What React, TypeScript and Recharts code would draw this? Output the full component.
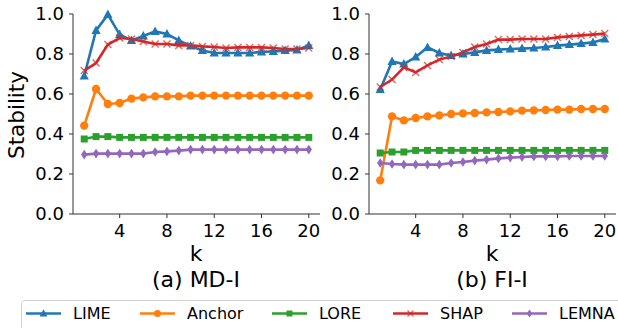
import React from "react"
import { LineChart, Line, XAxis, YAxis } from "recharts"

const ks = [1, 2, 3, 4, 5, 6, 7, 8, 9, 10, 11, 12, 13, 14, 15, 16, 17, 18, 19, 20]
const xTicks = [4, 8, 12, 16, 20]
const yTicks = [0, 0.2, 0.4, 0.6, 0.8, 1.0]
const methods = ["LIME", "Anchor", "LORE", "SHAP", "LEMNA"]
const panelTitles = ["(a) MD-I", "(b) FI-I"]

// (a) MD-I
const mdLime = [0.69, 0.918, 0.997, 0.897, 0.868, 0.89, 0.913, 0.9, 0.868, 0.84, 0.817, 0.805, 0.805, 0.805, 0.805, 0.81, 0.813, 0.817, 0.82, 0.843]
const mdAnchor = [0.442, 0.625, 0.55, 0.555, 0.577, 0.583, 0.588, 0.588, 0.588, 0.592, 0.592, 0.592, 0.592, 0.592, 0.592, 0.592, 0.592, 0.592, 0.592, 0.592]
const mdLore = [0.375, 0.387, 0.387, 0.383, 0.383, 0.383, 0.383, 0.383, 0.383, 0.383, 0.383, 0.383, 0.383, 0.383, 0.383, 0.383, 0.383, 0.383, 0.383, 0.383]
const mdShap = [0.717, 0.755, 0.847, 0.88, 0.875, 0.863, 0.85, 0.85, 0.843, 0.843, 0.838, 0.835, 0.83, 0.833, 0.833, 0.833, 0.83, 0.825, 0.825, 0.83]
const mdLemna = [0.297, 0.302, 0.302, 0.302, 0.302, 0.302, 0.31, 0.313, 0.317, 0.322, 0.322, 0.322, 0.322, 0.322, 0.322, 0.322, 0.322, 0.322, 0.322, 0.322]

// (b) FI-I
const fiLime = [0.622, 0.763, 0.75, 0.785, 0.833, 0.805, 0.792, 0.8, 0.808, 0.818, 0.822, 0.825, 0.827, 0.83, 0.835, 0.842, 0.847, 0.852, 0.858, 0.875]
const fiAnchor = [0.168, 0.488, 0.468, 0.48, 0.488, 0.493, 0.5, 0.503, 0.505, 0.508, 0.51, 0.513, 0.517, 0.518, 0.52, 0.522, 0.522, 0.525, 0.525, 0.525]
const fiLore = [0.305, 0.31, 0.31, 0.318, 0.318, 0.318, 0.318, 0.318, 0.318, 0.318, 0.318, 0.318, 0.318, 0.318, 0.318, 0.318, 0.318, 0.318, 0.318, 0.318]
const fiShap = [0.635, 0.672, 0.733, 0.708, 0.743, 0.772, 0.788, 0.808, 0.835, 0.85, 0.872, 0.872, 0.875, 0.875, 0.875, 0.883, 0.888, 0.893, 0.897, 0.902]
const fiLemna = [0.255, 0.25, 0.247, 0.247, 0.247, 0.247, 0.255, 0.26, 0.267, 0.272, 0.278, 0.282, 0.285, 0.288, 0.288, 0.288, 0.29, 0.29, 0.29, 0.29]

const colors = ["#1f77b4", "#ff7f0e", "#2ca02c", "#d62728", "#9467bd"]
const shapes = ["triangle", "circle", "square", "x", "diamond"]
const font = "'DejaVu Sans', sans-serif"

const buildRows = (series: number[][]) =>
  ks.map((k, i) => {
    const row: Record<string, number> = { k }
    methods.forEach((m, j) => (row[m] = series[j][i]))
    return row
  })

const panels = [
  buildRows([mdLime, mdAnchor, mdLore, mdShap, mdLemna]),
  buildRows([fiLime, fiAnchor, fiLore, fiShap, fiLemna]),
]

function Marker({ shape, color, x, y, s = 1 }: { shape: string; color: string; x: number; y: number; s?: number }) {
  if (shape === "triangle")
    return <polygon points={`${x},${y - 5 * s} ${x - 4.6 * s},${y + 3.5 * s} ${x + 4.6 * s},${y + 3.5 * s}`} fill={color} />
  if (shape === "circle") return <circle cx={x} cy={y} r={4.2 * s} fill={color} />
  if (shape === "square") return <rect x={x - 3.5 * s} y={y - 3.5 * s} width={7 * s} height={7 * s} fill={color} />
  if (shape === "x")
    return (
      <g stroke={color} strokeWidth={1.4} opacity={0.7}>
        <line x1={x - 3.5 * s} y1={y - 3.5 * s} x2={x + 3.5 * s} y2={y + 3.5 * s} />
        <line x1={x - 3.5 * s} y1={y + 3.5 * s} x2={x + 3.5 * s} y2={y - 3.5 * s} />
      </g>
    )
  return <polygon points={`${x},${y - 4.8 * s} ${x + 3.2 * s},${y} ${x},${y + 4.8 * s} ${x - 3.2 * s},${y}`} fill={color} />
}

const makeDot = (shape: string, color: string) => (props: any) => {
  const { cx, cy, index } = props
  if (cx == null || cy == null) return <g key={index} />
  return (
    <g key={index}>
      <Marker shape={shape} color={color} x={cx} y={cy} />
    </g>
  )
}

const axisColor = "#333"
const tickStyle = { fontSize: 18, fill: "#000", fontFamily: font }

function Panel({ data }: { data: Record<string, number>[] }) {
  return (
    <LineChart width={322} height={244} data={data} margin={{ top: 14, right: 2, bottom: 0, left: 0 }}>
      <XAxis
        type="number"
        dataKey="k"
        domain={[0.05, 20.95]}
        ticks={xTicks}
        allowDataOverflow
        height={30}
        tick={tickStyle}
        tickSize={4}
        tickMargin={6}
        stroke={axisColor}
      />
      <XAxis xAxisId="top" orientation="top" type="number" dataKey="k" domain={[0.05, 20.95]} height={0} tick={false} tickLine={false} stroke={axisColor} />
      <YAxis
        type="number"
        domain={[0, 1]}
        ticks={yTicks}
        width={73}
        tick={tickStyle}
        tickSize={4}
        tickMargin={5}
        tickFormatter={(v: number) => v.toFixed(1)}
        stroke={axisColor}
      />
      <YAxis yAxisId="right" orientation="right" domain={[0, 1]} width={0} tick={false} tickLine={false} stroke={axisColor} />
      {methods.map((m, i) => (
        <Line
          key={m}
          dataKey={m}
          stroke={colors[i]}
          strokeWidth={2.6}
          dot={makeDot(shapes[i], colors[i])}
          activeDot={false}
          isAnimationActive={false}
        />
      ))}
    </LineChart>
  )
}

const legendX = [26, 140, 272, 393, 512]

function Legend() {
  return (
    <svg width={618} height={28} style={{ position: "absolute", left: 0, top: 300 }}>
      <rect x={21.5} y={0.5} width={640} height={40} rx={3} fill="#fff" stroke="#d0d0d0" />
      {methods.map((m, i) => (
        <g key={m}>
          <line x1={legendX[i]} x2={legendX[i] + 35} y1={13.5} y2={13.5} stroke={colors[i]} strokeWidth={2.6} />
          <Marker shape={shapes[i]} color={colors[i]} x={legendX[i] + 17.5} y={13.5} s={0.85} />
          <text x={legendX[i] + 47} y={13.5} dy="0.36em" fontSize={16} fontFamily={font} fill="#000">
            {m}
          </text>
        </g>
      ))}
    </svg>
  )
}

const centered: React.CSSProperties = {
  position: "absolute",
  transform: "translate(-50%, -50%)",
  fontFamily: font,
  whiteSpace: "nowrap",
  lineHeight: 1,
}

export default function App() {
  const centers = [196, 492]
  return (
    <div style={{ position: "absolute", left: 0, top: 0, width: 618, height: 328, background: "#fff", overflow: "hidden" }}>
      <div style={{ position: "absolute", left: 0, top: 0 }}>
        <Panel data={panels[0]} />
      </div>
      <div style={{ position: "absolute", left: 296, top: 0 }}>
        <Panel data={panels[1]} />
      </div>
      <div style={{ ...centered, left: 16.5, top: 114.5, fontSize: 21.5, transform: "translate(-50%, -50%) rotate(-90deg)" }}>
        Stability
      </div>
      {centers.map((cx, i) => (
        <React.Fragment key={i}>
          <div style={{ ...centered, left: cx, top: 254, fontSize: 22 }}>k</div>
          <div style={{ ...centered, left: cx, top: 279.5, fontSize: 22 }}>{panelTitles[i]}</div>
        </React.Fragment>
      ))}
      <Legend />
    </div>
  )
}
